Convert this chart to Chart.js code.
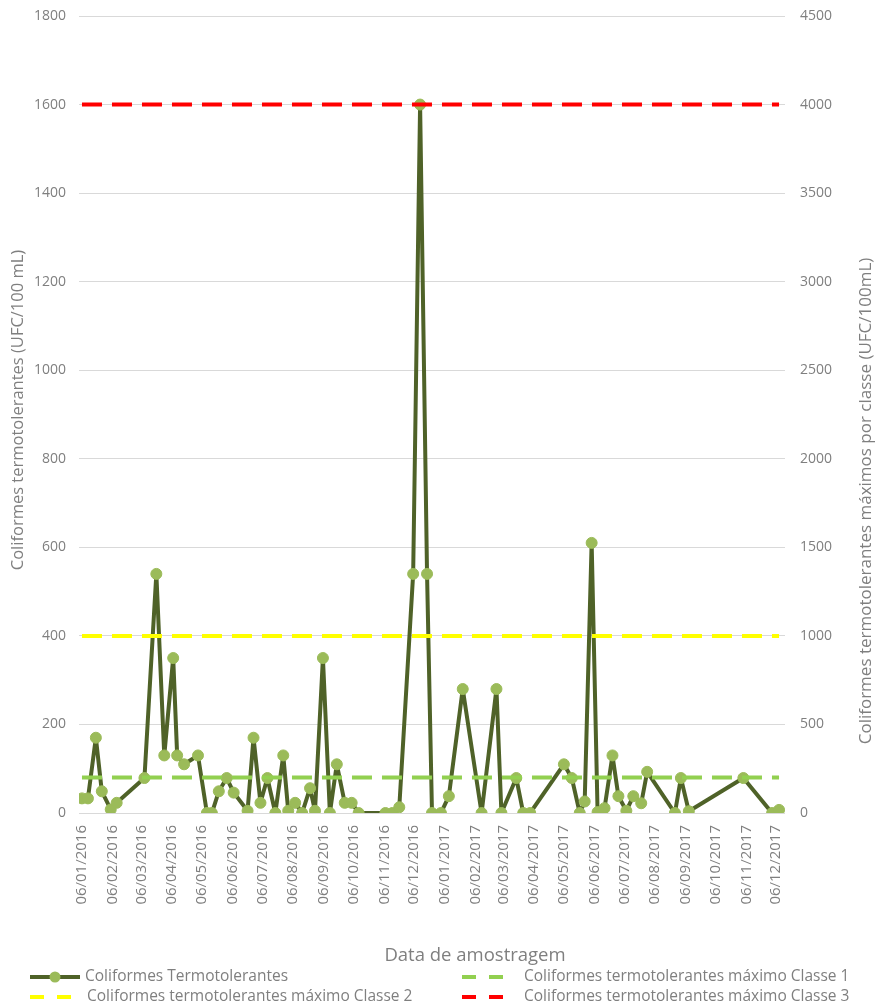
<!DOCTYPE html>
<html><head><meta charset="utf-8">
<script src="https://cdn.jsdelivr.net/npm/chart.js@4.4.1/dist/chart.umd.min.js"></script>
<style>html,body{margin:0;padding:0;background:#fff;}canvas{display:block;}</style>
</head><body>
<canvas id="c" width="877" height="1007"></canvas>
<script>
// ---- Data ----
const sampleDates = [
 '06/01/2016','12/01/2016','20/01/2016','26/01/2016','04/02/2016','10/02/2016','09/03/2016','21/03/2016','29/03/2016','07/04/2016',
 '11/04/2016','18/04/2016','02/05/2016','11/05/2016','16/05/2016','23/05/2016','31/05/2016','07/06/2016','21/06/2016','27/06/2016',
 '04/07/2016','11/07/2016','19/07/2016','27/07/2016','01/08/2016','08/08/2016','15/08/2016','23/08/2016','28/08/2016','05/09/2016',
 '12/09/2016','19/09/2016','27/09/2016','04/10/2016','11/10/2016','07/11/2016','14/11/2016','21/11/2016','05/12/2016','12/12/2016',
 '19/12/2016','24/12/2016','02/01/2017','10/01/2017','24/01/2017','12/02/2017','27/02/2017','04/03/2017','19/03/2017','26/03/2017',
 '02/04/2017','06/05/2017','14/05/2017','22/05/2017','27/05/2017','03/06/2017','09/06/2017','16/06/2017','24/06/2017','30/06/2017',
 '08/07/2017','15/07/2017','23/07/2017','29/07/2017','26/08/2017','01/09/2017','09/09/2017','03/11/2017','02/12/2017','09/12/2017'
];
const coliformes = [
 33,33,170,49,8,23,79,540,130,350,
 130,110,130,0,0,49,79,46,5,170,
 23,79,0,130,5,23,0,56,5,350,
 0,110,23,23,0,0,0,13,540,1600,
 540,0,0,38,280,0,280,0,79,0,
 0,110,79,0,26,610,2,11,130,38,
 5,38,22,93,0,79,4,79,0,7
];
const limitClasse1 = [200, 200];
const limitClasse2 = [1000, 1000];
const limitClasse3 = [4000, 4000];
const xTickLabels = [
 '06/01/2016','06/02/2016','06/03/2016','06/04/2016','06/05/2016','06/06/2016','06/07/2016','06/08/2016',
 '06/09/2016','06/10/2016','06/11/2016','06/12/2016','06/01/2017','06/02/2017','06/03/2017','06/04/2017',
 '06/05/2017','06/06/2017','06/07/2017','06/08/2017','06/09/2017','06/10/2017','06/11/2017','06/12/2017'
];
const seriesNames = [
 'Coliformes Termotolerantes',
 'Coliformes termotolerantes máximo Classe 1',
 'Coliformes termotolerantes máximo Classe 2',
 'Coliformes termotolerantes máximo Classe 3'
];
const leftTitle = 'Coliformes termotolerantes (UFC/100 mL)';
const rightTitle = 'Coliformes termotolerantes máximos por classe (UFC/100mL)';
const xTitle = 'Data de amostragem';

// ---- helpers ----
const DAY = 86400000;
function toDay(s){ const [d,m,y] = s.split('/').map(Number); return Date.UTC(y,m-1,d); }
const origin = toDay(xTickLabels[0]);
const dayOf = s => Math.round((toDay(s) - origin) / DAY);
const tickDays = xTickLabels.map(dayOf);
const labelByDay = {}; tickDays.forEach((d,i)=>labelByDay[d]=xTickLabels[i]);
const firstDay = dayOf(sampleDates[0]), lastDay = dayOf(sampleDates[sampleDates.length-1]);

const FONT = '"Open Sans", "DejaVu Sans", sans-serif';
const TXT = '#7f7f7f';
const C_LINE = '#4f6228', C_PT = '#9bbb59';
const C1 = '#92d050', C2 = '#ffff00', C3 = '#ff0000';

const textPlugin = {
  id: 'textPlugin',
  afterDraw(chart){
    const ctx = chart.ctx;
    ctx.save();
    ctx.fillStyle = TXT;
    ctx.textAlign = 'center'; ctx.textBaseline = 'middle';
    ctx.font = '16.5px ' + FONT;
    ctx.save(); ctx.translate(18, 410); ctx.rotate(-Math.PI/2); ctx.fillText(leftTitle, 0, 0); ctx.restore();
    ctx.font = '17px ' + FONT;
    ctx.save(); ctx.translate(866, 501); ctx.rotate(-Math.PI/2); ctx.fillText(rightTitle, 0, 0); ctx.restore();
    ctx.font = '18.5px ' + FONT;
    ctx.fillText(xTitle, 475, 956);
    // legend
    ctx.font = '15.5px ' + FONT;
    ctx.textAlign = 'left';
    const rows = [
      {x:30, y:977, tx:85, type:'line', color:C_LINE, text:seriesNames[0]},
      {x:462, y:977, tx:524, type:'dash', color:C1, text:seriesNames[1]},
      {x:30, y:997, tx:87, type:'dash', color:C2, text:seriesNames[2]},
      {x:462, y:997, tx:524, type:'dash', color:C3, text:seriesNames[3]}
    ];
    rows.forEach(r=>{
      ctx.lineCap = 'butt';
      if(r.type==='line'){
        ctx.strokeStyle = r.color; ctx.lineWidth = 4;
        ctx.beginPath(); ctx.moveTo(r.x, r.y); ctx.lineTo(r.x+50, r.y); ctx.stroke();
        ctx.fillStyle = C_PT; ctx.beginPath(); ctx.arc(r.x+25, r.y, 5.5, 0, Math.PI*2); ctx.fill();
      } else {
        ctx.strokeStyle = r.color; ctx.lineWidth = 4;
        ctx.beginPath(); ctx.moveTo(r.x, r.y); ctx.lineTo(r.x+14, r.y); ctx.moveTo(r.x+27, r.y); ctx.lineTo(r.x+41, r.y); ctx.stroke();
      }
      ctx.fillStyle = TXT;
      ctx.fillText(r.text, r.tx, r.y);
    });
    ctx.restore();
  }
};

const limitDs = (label, vals, color) => ({
  label, yAxisID:'y2', order:0,
  data: [{x:firstDay, y:vals[0]}, {x:lastDay, y:vals[1]}],
  borderColor: color, borderWidth: 4, borderDash: [20, 10], pointRadius: 0, fill:false, tension:0
});

const noVPad = scale => { scale.paddingTop = 0; scale.paddingBottom = 0; };

new Chart(document.getElementById('c'), {
  type: 'line',
  data: {
    datasets: [
      { label: seriesNames[0], yAxisID:'y', order:1,
        data: sampleDates.map((d,i)=>({x: dayOf(d), y: coliformes[i]})),
        borderColor: C_LINE, borderWidth: 4, tension: 0, borderJoinStyle: 'round', borderCapStyle: 'round',
        pointRadius: 5.5, pointBackgroundColor: C_PT, pointBorderColor: C_PT, pointBorderWidth: 1 },
      limitDs(seriesNames[1], limitClasse1, C1),
      limitDs(seriesNames[2], limitClasse2, C2),
      limitDs(seriesNames[3], limitClasse3, C3)
    ]
  },
  options: {
    responsive: false, animation: false, devicePixelRatio: 1,
    layout: { padding: { top: 16, left: 0, right: 0, bottom: 0 } },
    plugins: { legend: { display: false }, tooltip: { enabled: false } },
    scales: {
      x: {
        type: 'linear', min: -3, max: 709,
        afterBuildTicks(scale){ scale.ticks = tickDays.map(v=>({value:v})); },
        afterFit(scale){ scale.height = 194; },
        grid: { display: false, drawTicks: false },
        border: { display: false },
        ticks: { autoSkip: false, maxRotation: 90, minRotation: 90, padding: 12,
          color: TXT, font: { family: FONT, size: 15 },
          callback: v => labelByDay[v] || '' }
      },
      y: {
        position: 'left', min: 0, max: 1800,
        afterFit(scale){ scale.width = 79; noVPad(scale); },
        grid: { color: '#d9d9d9', lineWidth: 1, drawTicks: false },
        border: { display: false },
        ticks: { stepSize: 200, padding: 13, color: TXT, font: { family: FONT, size: 14 },
          callback: v => String(v) }
      },
      y2: {
        position: 'right', min: 0, max: 4500,
        afterFit(scale){ scale.width = 92; noVPad(scale); },
        grid: { display: false, drawTicks: false },
        border: { display: false },
        ticks: { stepSize: 500, padding: 15, color: TXT, font: { family: FONT, size: 14 },
          callback: v => String(v) }
      }
    }
  },
  plugins: [textPlugin]
});
</script>
</body></html>
